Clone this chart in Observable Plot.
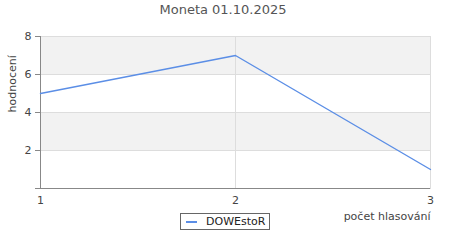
<!DOCTYPE html>
<html>
<head>
<meta charset="utf-8">
<script src="https://cdn.jsdelivr.net/npm/d3@7"></script>
<script src="https://cdn.jsdelivr.net/npm/@observablehq/plot@0.6"></script>
<style>
  html, body { margin: 0; padding: 0; background: #fff; }
  #wrap { position: relative; width: 450px; height: 250px; font-family: "DejaVu Sans", sans-serif; }
  #title { position: absolute; left: 0; top: 2px; width: 446px; text-align: center; font-size: 13px; color: #555; }
  #legend { position: absolute; left: 180px; top: 213px; width: 88px; height: 15px; border: 1px solid #666; font-size: 11px; color: #222; }
  #legend .sw { position: absolute; left: 5px; top: 7px; width: 11px; height: 2px; }
  #legend .lb { position: absolute; left: 25px; top: 0px; line-height: 15px; }
</style>
</head>
<body>
<div id="wrap">
  <div id="title"></div>
  <div id="legend"><div class="sw"></div><div class="lb"></div></div>
</div>
<script>
const title = "Moneta 01.10.2025";
const seriesName = "DOWEstoR";
const votes = [1, 2, 3];
const ratings = [5, 7, 1];
const xTicks = [1, 2, 3];
const yTicks = [0, 2, 4, 6, 8];
const xLabel = "počet hlasování";
const yLabel = "hodnocení";
const lineColor = "#5b8ee6";

const data = votes.map((v, i) => ({x: v, y: ratings[i]}));
const bands = [];
for (let i = 1; i < yTicks.length - 1; i += 2) bands.push({y1: yTicks[i], y2: yTicks[i + 1]});

document.getElementById("title").textContent = title;
document.querySelector("#legend .lb").textContent = seriesName;
document.querySelector("#legend .sw").style.background = lineColor;

const chart = Plot.plot({
  width: 450,
  height: 250,
  marginTop: 36,
  marginBottom: 62,
  marginLeft: 40,
  marginRight: 20,
  style: {fontFamily: "DejaVu Sans, sans-serif", fontSize: "11px", color: "#444", background: "#fff"},
  x: {domain: [xTicks[0], xTicks[xTicks.length - 1]]},
  y: {domain: [yTicks[0], yTicks[yTicks.length - 1]]},
  marks: [
    Plot.rect(bands, {y1: "y1", y2: "y2", fill: "#f2f2f2"}),
    Plot.ruleY(yTicks.slice(1), {stroke: "#dddddd"}),
    Plot.ruleX(xTicks.slice(1), {stroke: "#dddddd"}),
    Plot.frame({stroke: "#dddddd"}),
    Plot.axisY({ticks: yTicks, tickFormat: d => d === 0 ? "" : d, tickSize: 5, tickPadding: 4, label: null, stroke: "#888", fill: "#444"}),
    Plot.axisX({ticks: xTicks, tickFormat: d => String(d), tickSize: 0, tickPadding: 8, label: null, fill: "#444"}),
    Plot.ruleX([xTicks[0]], {stroke: "#888"}),
    Plot.ruleY([yTicks[0]], {stroke: "#888"}),
    Plot.line(data, {x: "x", y: "y", stroke: lineColor, strokeWidth: 1.4}),
    Plot.text([yLabel], {frameAnchor: "left", text: d => d, rotate: -90, dx: -28, fontSize: 11, fill: "#444"}),
    Plot.text([xLabel], {frameAnchor: "bottom-right", text: d => d, textAnchor: "end", dy: 31, fontSize: 11, fill: "#444"})
  ]
});
document.getElementById("wrap").prepend(chart);
chart.style.position = "absolute";
chart.style.left = "0";
chart.style.top = "0";
</script>
</body>
</html>
